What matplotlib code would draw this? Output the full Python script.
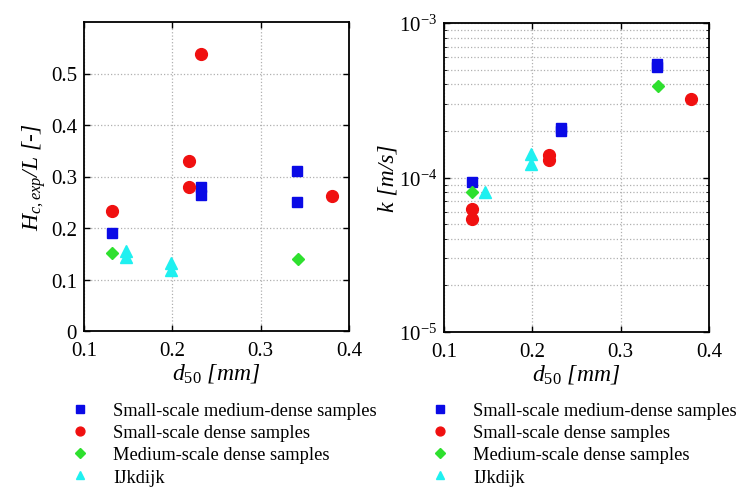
import matplotlib
matplotlib.use("Agg")
import matplotlib.pyplot as plt
from matplotlib.lines import Line2D

plt.rcParams['font.family'] = ['Liberation Serif', 'DejaVu Serif']
plt.rcParams['mathtext.fontset'] = 'custom'
plt.rcParams['mathtext.rm'] = 'Liberation Serif'
plt.rcParams['mathtext.it'] = 'Liberation Serif:italic'

labels = ["Small-scale medium-dense samples", "Small-scale dense samples",
          "Medium-scale dense samples", "IJkdijk"]

# critical head ratio Hc,exp/L vs d50
hc_d50 = {
    "sm": [0.132, 0.233, 0.233, 0.341, 0.341],
    "sd": [0.132, 0.219, 0.219, 0.233, 0.381],
    "md": [0.132, 0.342],
    "ij": [0.147, 0.147, 0.199, 0.199],
}
hc_val = {
    "sm": [0.190, 0.280, 0.265, 0.310, 0.251],
    "sd": [0.233, 0.330, 0.280, 0.538, 0.262],
    "md": [0.152, 0.140],
    "ij": [0.155, 0.143, 0.133, 0.118],
}

# permeability k vs d50
k_d50 = {
    "sm": [0.132, 0.233, 0.233, 0.341, 0.341],
    "sd": [0.132, 0.132, 0.219, 0.219, 0.380],
    "md": [0.132, 0.342],
    "ij": [0.146, 0.199, 0.199],
}
k_val = {
    "sm": [9.4e-5, 2.1e-4, 2.0e-4, 5.45e-4, 5.2e-4],
    "sd": [6.25e-5, 5.4e-5, 1.40e-4, 1.30e-4, 3.24e-4],
    "md": [8.0e-5, 3.9e-4],
    "ij": [8.1e-5, 1.42e-4, 1.23e-4],
}

keys = ["sm", "sd", "md", "ij"]
styles = {
    "sm": dict(marker="s", color="#0a0ae6", ms=7.5),
    "sd": dict(marker="o", color="#f01010", ms=8.5),
    "md": dict(marker="D", color="#2ee02e", ms=6.5),
    "ij": dict(marker="^", color="#1ff0f0", ms=8.5),
}

W, H = 751, 489
fig = plt.figure(figsize=(W / 100, H / 100), dpi=100)
ax1 = fig.add_axes([84 / W, 1 - 332 / H, 265 / W, 309 / H])
ax2 = fig.add_axes([444 / W, 1 - 333 / H, 265 / W, 309 / H])

for k in keys:
    st = styles[k]
    ax1.plot(hc_d50[k], hc_val[k], ls="none", marker=st["marker"], ms=st["ms"],
             color=st["color"], mec=st["color"])
    ax2.plot(k_d50[k], k_val[k], ls="none", marker=st["marker"], ms=st["ms"],
             color=st["color"], mec=st["color"])

grid_kw = dict(color="#b0b0b0", linestyle=":", linewidth=0.9)
lab_kw = dict(fontsize=17, fontstyle="italic")

ax1.set_xlim(0.1, 0.4)
ax1.set_ylim(0, 0.6)
ax1.set_xticks([0.1, 0.2, 0.3, 0.4])
ax1.set_xticklabels(["0.1", "0.2", "0.3", "0.4"])
ax1.set_yticks([0, 0.1, 0.2, 0.3, 0.4, 0.5])
ax1.set_yticklabels(["0", "0.1", "0.2", "0.3", "0.4", "0.5"])
ax1.grid(True, **grid_kw)
ax1.set_xlabel(r"$d_{50}$ [mm]", labelpad=1, **lab_kw)
ax1.set_ylabel(r"$H_{c,exp}$/L [-]", labelpad=2, **lab_kw)

ax2.set_yscale("log")
ax2.set_xlim(0.1, 0.4)
ax2.set_ylim(1e-5, 1e-3)
ax2.set_xticks([0.1, 0.2, 0.3, 0.4])
ax2.set_xticklabels(["0.1", "0.2", "0.3", "0.4"])
ax2.set_yticks([1e-5, 1e-4, 1e-3])
ax2.set_yticklabels([r"$\mathregular{10^{-5}}$", r"$\mathregular{10^{-4}}$",
                     r"$\mathregular{10^{-3}}$"])
ax2.grid(True, which="both", axis="y", **grid_kw)
ax2.grid(True, which="major", axis="x", **grid_kw)
ax2.set_xlabel(r"$d_{50}$ [mm]", labelpad=1, **lab_kw)
ax2.set_ylabel("k [m/s]", labelpad=0, **lab_kw)

for ax in (ax1, ax2):
    ax.tick_params(direction="in", labelsize=15, length=4, width=1,
                   top=True, right=True)
    ax.tick_params(axis="x", pad=7)
    ax.tick_params(axis="y", pad=5)
    ax.tick_params(which="minor", direction="in", length=2, right=True)
    for sp in ax.spines.values():
        sp.set_linewidth(1.3)

handles = [Line2D([], [], ls="none", marker=styles[k]["marker"],
                  ms=styles[k]["ms"] * 0.75, color=styles[k]["color"])
           for k in keys]
for x0 in (71, 431):
    fig.legend(handles, labels, loc="upper left",
               bbox_to_anchor=(x0 / W, 1 - 403 / H), frameon=False,
               fontsize=13.3, handlelength=1.0, handletextpad=1.3,
               labelspacing=0.28, borderaxespad=0, borderpad=0)

fig.savefig("out.png", dpi=100)
